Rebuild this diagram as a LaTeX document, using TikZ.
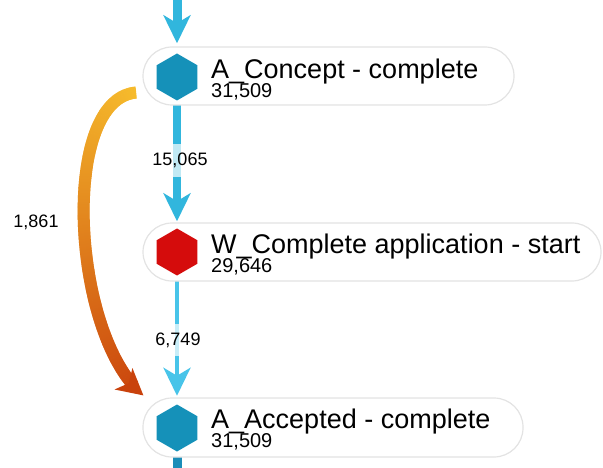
\documentclass[tikz,border=0pt]{standalone}
\usepackage{fontspec}
\setmainfont{Liberation Sans}
\usetikzlibrary{arrows.meta}
\usetikzlibrary{calc}
\usetikzlibrary{shapes.geometric}
\usetikzlibrary{decorations.markings}
\usetikzlibrary{backgrounds}
\definecolor{hexblue}{HTML}{1591B9}
\definecolor{hexred}{HTML}{D50C0C}
\definecolor{flowblue}{HTML}{31B6DD}
\definecolor{flowlight}{HTML}{48C4E9}
\definecolor{stubblue}{HTML}{1B8DB8}
\definecolor{loopstart}{HTML}{F6BB2C}
\definecolor{loopend}{HTML}{C9420C}
\tikzset{
  activity/.style={draw=black!11,line width=1.2pt,fill=white,rounded corners=29pt,
                   minimum height=58pt,inner sep=0pt},
  hexicon/.style={regular polygon,regular polygon sides=6,shape border rotate=30,
                  minimum size=47pt,inner sep=0pt,fill=#1},
  hexicon/.default=hexblue,
  title/.style={anchor=base west,inner sep=0pt,font=\fontsize{27}{27}\selectfont},
  count/.style={anchor=base west,inner sep=0pt,font=\fontsize{20}{20}\selectfont},
  flowlabel/.style={font=\fontsize{18}{18}\selectfont,fill=white,fill opacity=0.7,
                    text opacity=1,inner xsep=2pt,inner ysep=9pt},
  flow/.style={draw=flowblue,line width=#1,-{Stealth[length=28pt,width=27pt,inset=8pt]}},
  flow/.default=7.5pt,
  gradient flow/.style={decoration={markings,
      mark=between positions 0 and 0.95 step 1pt with {%
        \pgfmathsetmacro\pct{\pgfkeysvalueof{/pgf/decoration/mark info/distance from start}/\pgfdecoratedpathlength*100}%
        \fill[loopend!\pct!loopstart] (-0.8pt,-6pt) rectangle (0.8pt,6pt);}},
      postaction={decorate}}
}

\begin{document}
\begin{tikzpicture}[x=1pt,y=-1pt]
  \useasboundingbox (0,0) rectangle (603,468);

  % ACTIVITIES
  \node[activity,minimum width=371pt] (concept)  at (328.5,76)  {};
  \node[activity,minimum width=458pt] (complete) at (372,252)   {};
  \node[activity,minimum width=380pt,minimum height=59pt] (accepted) at (333,427.5) {};

  \node[hexicon]         (conceptHex)  at (177,77)  {};
  \node[hexicon=hexred]  (completeHex) at (177,252) {};
  \node[hexicon]         (acceptedHex) at (177,428) {};

  \node[title] (conceptTitle)  at ($(conceptHex)+(34,1.5)$)  {A\_Concept - complete};
  \node[count] (conceptCount)  at ($(conceptHex)+(34,20.5)$) {31,509};
  \node[title] (completeTitle) at ($(completeHex)+(34,1.5)$)  {W\_Complete application - start};
  \node[count] (completeCount) at ($(completeHex)+(34,20.5)$) {29,646};
  \node[title] (acceptedTitle) at ($(acceptedHex)+(34,0.5)$)  {A\_Accepted - complete};
  \node[count] (acceptedCount) at ($(acceptedHex)+(34,19.5)$) {31,509};

  \coordinate (entry) at (177,0);
  \coordinate (exit)  at (177,468);
  \coordinate (loopStart) at ($(concept.south west)+(-7,-13)$);
  \coordinate (loopEnd)   at ($(accepted.north west)+(1,-2)$);

  % FLOWS
  \begin{scope}[on background layer]
    \draw[flow=9pt,shorten >=10pt] (entry) -- (conceptHex);
    \draw[flow,shorten >=7pt] (conceptHex) -- (completeHex)
      node[flowlabel,midway,xshift=3pt,yshift=4pt] (lblA) {15,065};
    \draw[flow=4pt,draw=flowlight,shorten >=8.5pt] (completeHex) -- (acceptedHex)
      node[flowlabel,midway,xshift=1pt] (lblB) {6,749};
    \draw[stubblue,line width=9pt] (acceptedHex) -- (exit);
    \path[gradient flow] (loopStart) .. controls +(-76,8) and +(-72,-60) .. (loopEnd);
    \fill[loopend] (loopEnd) -- +(-28.9,-5.9) -- +(-14.6,-12.2) -- +(-11,-27.4) -- cycle; % head
  \end{scope}
  \node[flowlabel,fill=none] (lblC) at (36,222) {1,861};

\end{tikzpicture}
\end{document}
